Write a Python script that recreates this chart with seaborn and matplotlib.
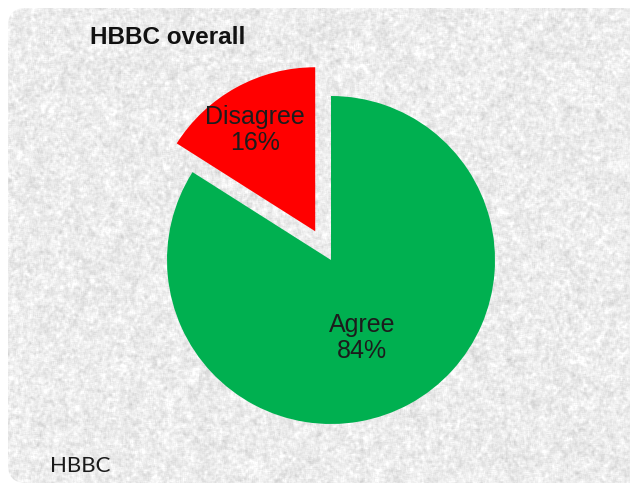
import numpy as np
import matplotlib
matplotlib.use("Agg")
import matplotlib.pyplot as plt
from matplotlib.patches import FancyBboxPatch
import seaborn as sns

# --- data ---
categories = ["Disagree", "Agree"]
shares = [16, 84]
colors = ["#FF0000", "#00B050"]
title_text = "HBBC overall"
footer_text = "HBBC"

sns.set_theme(style="white")
plt.rcParams["font.family"] = ["Liberation Sans", "DejaVu Sans"]

W, H = 630, 487
fig = plt.figure(figsize=(W / 100, H / 100), dpi=100)
fig.patch.set_facecolor("white")

# --- stone-like card background ---
bg = fig.add_axes([0, 0, 1, 1])
bg.set_xlim(0, W)
bg.set_ylim(H, 0)
bg.axis("off")

rng = np.random.default_rng(7)


def box_blur(a, k):
    ker = np.ones(k) / k
    a = np.apply_along_axis(lambda r: np.convolve(r, ker, mode="same"), 1, a)
    a = np.apply_along_axis(lambda c: np.convolve(c, ker, mode="same"), 0, a)
    return a


def norm(a):
    return (a - a.mean()) / a.std()


fine = norm(box_blur(rng.normal(0, 1, (H, W)), 3))
mid = norm(box_blur(rng.normal(0, 1, (H, W)), 5))
coarse = norm(box_blur(rng.normal(0, 1, (H, W)), 15))
tex = 0.925 + 0.022 * fine + 0.018 * mid + 0.008 * coarse
tex = np.clip(tex, 0.75, 1.0)
img = bg.imshow(tex, cmap="gray", vmin=0, vmax=1, extent=(0, W, H, 0),
                interpolation="bilinear", zorder=0)
card = FancyBboxPatch((8, 8), W + 20, H - 12, boxstyle="round,pad=0,rounding_size=18",
                      transform=bg.transData, facecolor="none", edgecolor="none")
bg.add_patch(card)
img.set_clip_path(card)

# --- pie ---
cx, cy, R, lim = 331, 260, 164, 1.3
half = lim * R
ax = fig.add_axes([(cx - half) / W, (H - cy - half) / H, 2 * half / W, 2 * half / H])
ax.set_facecolor("none")
wedges, _ = ax.pie(shares, colors=colors, startangle=90, counterclock=True,
                   explode=[0.2, 0], radius=1, labels=None,
                   wedgeprops=dict(linewidth=0, antialiased=True))
ax.set_xlim(-lim, lim)
ax.set_ylim(-lim, lim)
ax.set_aspect("equal")
ax.axis("off")

# label placement inside each wedge: (radial fraction, angular nudge in degrees)
label_place = [(0.72, 2), (0.51, -7)]
for w, name, val, (dist, nudge) in zip(wedges, categories, shares, label_place):
    th = np.deg2rad((w.theta1 + w.theta2) / 2 + nudge)
    x0, y0 = w.center
    ax.text(x0 + dist * np.cos(th), y0 + dist * np.sin(th), f"{name}\n{val}%",
            ha="center", va="center", fontsize=18, color="#1c1c1c", linespacing=1.1)

fig.text(90 / W, 1 - 38 / H, title_text, fontsize=17.5, fontweight="bold",
         ha="left", va="center", color="#111111")
fig.text(50 / W, 1 - 466 / H, footer_text, fontsize=16, ha="left", va="center",
         color="#1a1a1a", family=["Lato", "DejaVu Sans"])

fig.savefig("out.png", dpi=100)
